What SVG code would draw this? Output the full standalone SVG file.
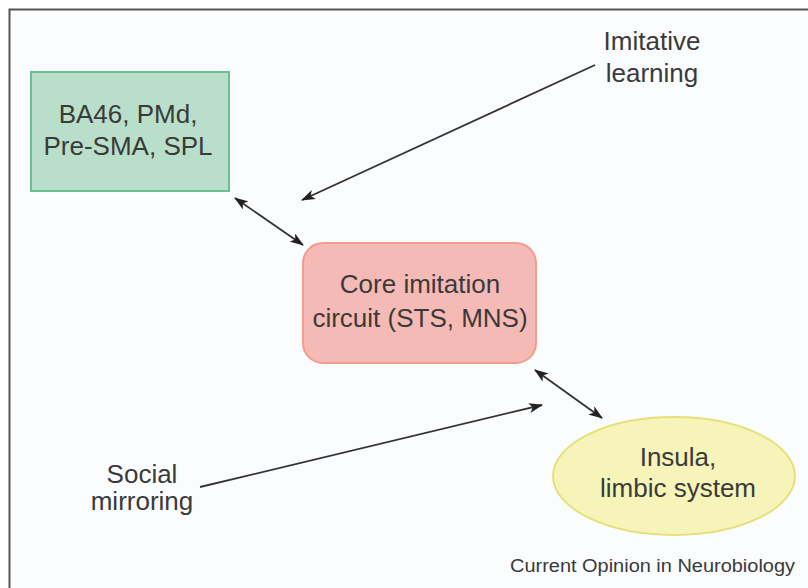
<svg xmlns="http://www.w3.org/2000/svg" width="808" height="588" viewBox="0 0 808 588">
<style>
.t{font-family:"Liberation Sans",Arial,sans-serif;font-size:26px;fill:#3a3a3a;text-anchor:middle}
.c{stroke:#333;stroke-width:1.8;fill:none}
</style>
<defs>
<marker id="ah" viewBox="0 0 14 10" refX="13" refY="5" markerWidth="14" markerHeight="10" markerUnits="userSpaceOnUse" orient="auto-start-reverse">
<path d="M0,0 L14,5 L0,10 L3.5,5 z" fill="#222"/>
</marker>
</defs>
<rect x="0" y="0" width="808" height="588" fill="#ffffff"/>
<rect x="9.5" y="9.5" width="820" height="600" fill="#fbfcfd" stroke="#555" stroke-width="2"/>
<g id="node-ba46">
<rect x="31" y="72" width="198" height="119" fill="#b9dfca" stroke="#6bbf94" stroke-width="2"/>
<text class="t" x="128" y="123">BA46, PMd,</text>
<text class="t" x="128" y="155">Pre-SMA, SPL</text>
</g>
<g id="node-core">
<rect x="303" y="243" width="233" height="120" rx="20" fill="#f6bab6" stroke="#f29c8d" stroke-width="2"/>
<text class="t" x="420" y="293">Core imitation</text>
<text class="t" x="420" y="327">circuit (STS, MNS)</text>
</g>
<g id="node-insula">
<ellipse cx="674" cy="476" rx="121" ry="59" fill="#f7f4b9" stroke="#e6e07c" stroke-width="2"/>
<text class="t" x="678" y="466">Insula,</text>
<text class="t" x="678" y="497">limbic system</text>
</g>
<g id="label-imitative">
<text class="t" x="652" y="50">Imitative</text>
<text class="t" x="652" y="82">learning</text>
</g>
<g id="label-social">
<text class="t" x="142" y="483">Social</text>
<text class="t" x="142" y="510">mirroring</text>
</g>
<g id="connectors">
<line class="c" x1="595" y1="65" x2="302" y2="200" marker-end="url(#ah)"/>
<line class="c" x1="235" y1="198" x2="303" y2="245" marker-start="url(#ah)" marker-end="url(#ah)"/>
<line class="c" x1="200" y1="487" x2="542" y2="405" marker-end="url(#ah)"/>
<line class="c" x1="535" y1="370" x2="602" y2="418" marker-start="url(#ah)" marker-end="url(#ah)"/>
</g>
<text id="caption" x="510" y="572" font-family="'Liberation Sans',Arial,sans-serif" font-size="18" fill="#3a3a3a" textLength="285" lengthAdjust="spacingAndGlyphs">Current Opinion in Neurobiology</text>
</svg>
